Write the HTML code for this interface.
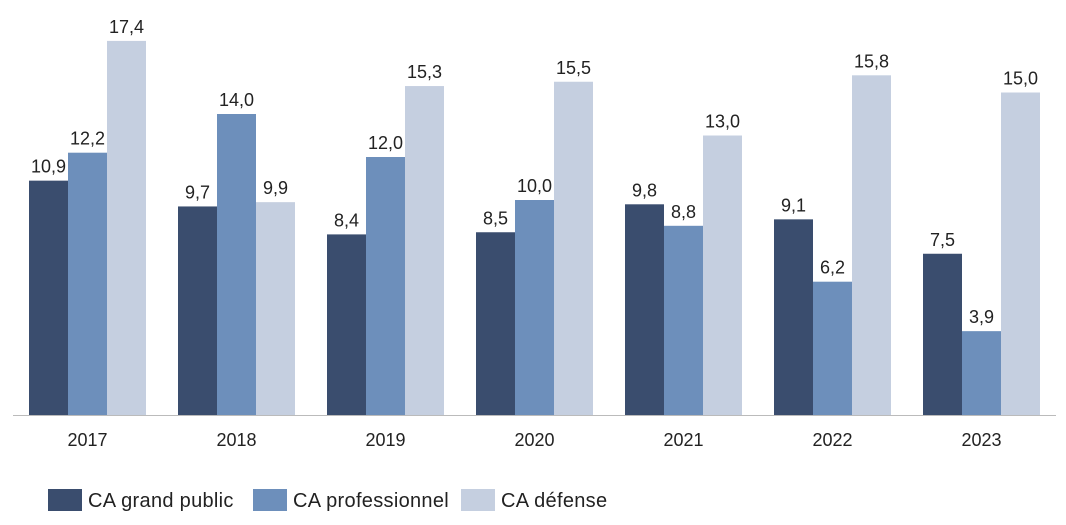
<!DOCTYPE html>
<html><head><meta charset="utf-8"><style>
body{margin:0;background:#fff;}
svg text{font-family:"Liberation Sans",sans-serif;fill:#222;}
</style></head><body>
<svg id="chart" width="1066" height="520" xmlns="http://www.w3.org/2000/svg">
<g id="bars"></g>
<g id="labels"></g>
<g id="xaxis"></g>
<g id="legend"></g>
</svg>
<script>
const categories=["2017","2018","2019","2020","2021","2022","2023"];
const seriesNames=["CA grand public","CA professionnel","CA défense"];
const grandPublic=[10.9,9.7,8.4,8.5,9.8,9.1,7.5];
const professionnel=[12.2,14.0,12.0,10.0,8.8,6.2,3.9];
const defense=[17.4,9.9,15.3,15.5,13.0,15.8,15.0];
const series=[grandPublic,professionnel,defense];
const colors=["#3a4d6e","#6d8fbb","#c5cfe0"];
const NS="http://www.w3.org/2000/svg";
const x0=13,x1=1056,base=415,scale=21.5,bw=39;
const cw=(x1-x0)/categories.length;
const xc=i=>x0+cw*(i+0.5);
const y=v=>base-v*scale;
function mk(t,a,p){const e=document.createElementNS(NS,t);for(const k in a)e.setAttribute(k,a[k]);p.appendChild(e);return e;}
const gb=document.getElementById('bars'),gl=document.getElementById('labels'),gx=document.getElementById('xaxis'),gg=document.getElementById('legend');
series.forEach((s,si)=>{s.forEach((v,i)=>{
 const bx=xc(i)-1.5*bw+si*bw;
 const r=mk('rect',{x:bx,y:y(v),width:bw,height:base-y(v),fill:colors[si]},gb);
 
 
 const t=mk('text',{x:bx+bw/2,y:y(v)-8,'text-anchor':'middle','font-size':18},gl);
 t.textContent=v.toFixed(1).replace('.',',');
 
 
});});
const ax=mk('line',{x1:x0,x2:x1,y1:base+0.5,y2:base+0.5,stroke:'#bbb','stroke-width':1},gx);


categories.forEach((c,i)=>{
 const t=mk('text',{x:xc(i),y:446,'text-anchor':'middle','font-size':18},gx);
 t.textContent=c;
 
 
});
const lx=[48,253,461];
seriesNames.forEach((n,i)=>{
 const r=mk('rect',{x:lx[i],y:489,width:34,height:22,fill:colors[i]},gg);
 
 
 const t=mk('text',{x:lx[i]+40,y:507,'font-size':20,'letter-spacing':0.3},gg);
 t.textContent=n;
 
 
});
</script>
</body></html>
